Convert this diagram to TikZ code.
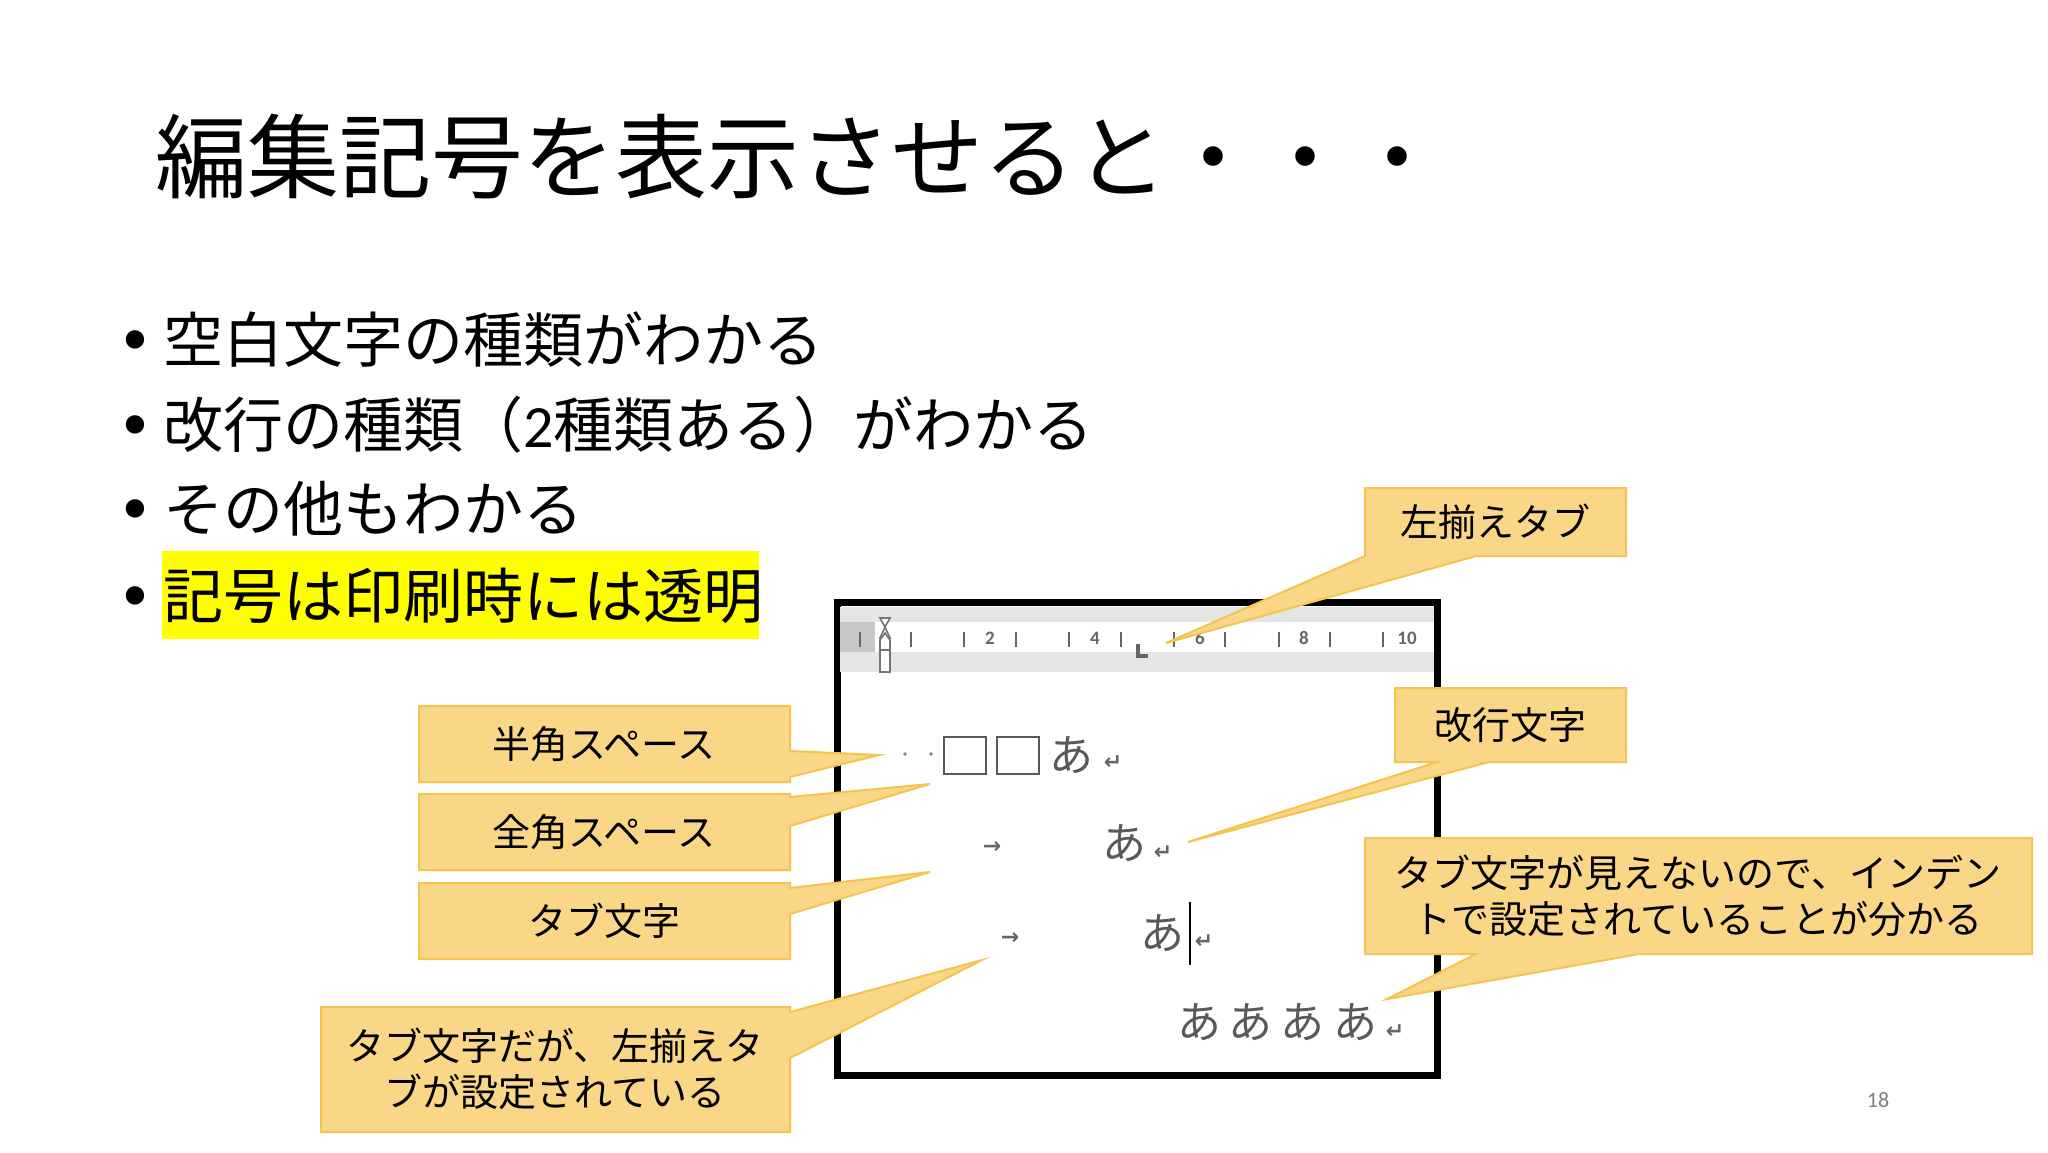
\documentclass[tikz,border=0pt]{standalone}
\usepackage{fontspec}
\setmainfont{Noto Sans CJK JP}
\newfontfamily\lat{Carlito}
\newfontfamily\dv{DejaVu Sans}
\definecolor{cofill}{RGB}{250,215,135}
\definecolor{codraw}{RGB}{244,196,80}
\definecolor{hl}{RGB}{255,255,0}
\begin{document}
\begin{tikzpicture}[x=0.5pt,y=-0.5pt,
  co/.style={fill=cofill,draw=codraw,line width=1pt,line join=miter},
  lbl/.style={font=\fontsize{19pt}{23pt}\selectfont,align=center,inner sep=0},
  bul/.style={anchor=west,font=\fontsize{30pt}{36pt}\selectfont,inner sep=0},
  jp/.style={text=black!65,font=\fontsize{22pt}{24pt}\selectfont,inner sep=0},
  mk/.style={text=black!60,font=\fontsize{11pt}{12pt}\selectfont\dv\bfseries,inner sep=0},
  rn/.style={text=black!60,font=\fontsize{9.5pt}{10pt}\selectfont\bfseries\lat,inner sep=0}]
\useasboundingbox (0,0) rectangle (2048,1152);
\fill[white] (0,0) rectangle (2048,1152);
% title
\node[anchor=west,inner sep=0,font=\fontsize{46pt}{52pt}\selectfont] (title) at (155,157) {編集記号を表示させると・・・};
% bullets
\fill[hl] (162,551) rectangle (759,639);
\foreach \y/\t [count=\i] in {340/空白文字の種類がわかる,425/改行の種類（{\lat 2}種類ある）がわかる,509/その他もわかる,596/記号は印刷時には透明}{
  \node[bul] (b\i) at (163,\y) {\t};
  \node[anchor=center,inner sep=0,font=\fontsize{26pt}{30pt}\selectfont\lat] (d\i) at (135,\y+3) {•};
}
% panel
\draw[line width=3.5pt] (837,602) rectangle (1437,1075);
\fill[black!10] (840,607) rectangle (1434,672);
\fill[white] (875,622) rectangle (1434,652);
\fill[black!22] (840,622) rectangle (875,652);
\foreach \x in {860,911,964,1016,1069,1121,1174,1225,1279,1330,1383}
  \draw[black!60,line width=1pt] (\x,632) -- (\x,647);
\foreach \x/\n in {990/2,1095/4,1200/6,1304/8,1407/10}
  \node[rn] (r\n) at (\x,638) {\n};
\draw[black!60,line width=2pt] (1138,644) -- (1138,656) -- (1148,656);
\draw[black!55,fill=white,line width=0.8pt] (880,618) -- (890,618) -- (885,627) -- cycle
  (885,627) -- (880,638) -- (890,638) -- cycle;
\draw[black!55,fill=white,line width=0.8pt] (880,640) -- (885,633) -- (890,640) -- (890,650) -- (880,650) -- cycle;
\draw[black!55,fill=white,line width=0.8pt] (880,650) rectangle (890,672);
% row 1
\fill[black!50] (905,754) circle (1.8) (931,754) circle (1.8);
\draw[black!65,line width=1pt] (944,737) rectangle (986,774) (997,737) rectangle (1039,774);
\node[jp] (a1) at (1071,755) {あ};
\node[mk] (e1) at (1113,763) {↵};
% row 2
\node[mk] (t2) at (992,848) {→};
\node[jp] (a2) at (1124,843) {あ};
\node[mk] (e2) at (1163,853) {↵};
% row 3
\node[mk] (t3) at (1010,939) {→};
\node[jp] (a3) at (1162,933) {あ};
\draw[black,line width=1pt] (1190,902) -- (1190,965);
\node[mk] (e3) at (1204,942) {↵};
% row 4
\node[jp,anchor=center] (a4) at (1277,1022) {あ\hspace{4pt}あ\hspace{4pt}あ\hspace{4pt}あ};
\node[mk] (e4) at (1395,1032) {↵};
% callouts right (bottom wedge)
\draw[co] (1365,488) -- (1626,488) -- (1626,556) -- (1476,556) -- (1166,643) -- (1365,556) -- cycle;
\node[lbl] (c1) at (1495,522) {左揃えタブ};
\draw[co] (1395,688) -- (1626,688) -- (1626,762) -- (1489,762) -- (1188,842) -- (1437,762) -- (1395,762) -- cycle;
\node[lbl] (c2) at (1510,725) {改行文字};
\draw[co] (1365,838) -- (2032,838) -- (2032,954) -- (1639,954) -- (1387,999) -- (1476,954) -- (1365,954) -- cycle;
\node[lbl] (c3) at (1698,896) {タブ文字が見えないので、インデン\\トで設定されていることが分かる};
% callouts left (right wedge)
\draw[co] (419,706) -- (790,706) -- (790,751) -- (879,755) -- (790,777) -- (790,782) -- (419,782) -- cycle;
\node[lbl] (c4) at (604,744) {半角スペース};
\draw[co] (419,794) -- (790,794) -- (790,797) -- (930,784) -- (790,826) -- (790,870) -- (419,870) -- cycle;
\node[lbl] (c5) at (604,832) {全角スペース};
\draw[co] (419,883) -- (790,883) -- (790,888) -- (930,872) -- (790,914) -- (790,959) -- (419,959) -- cycle;
\node[lbl] (c6) at (604,921) {タブ文字};
\draw[co] (321,1007) -- (790,1007) -- (790,1012) -- (982,960) -- (790,1058) -- (790,1132) -- (321,1132) -- cycle;
\node[lbl] (c7) at (555,1069) {タブ文字だが、左揃えタ\\ブが設定されている};
% page number
\node[text=black!50,font=\fontsize{11pt}{13pt}\selectfont\lat,inner sep=0] (pg) at (1878,1100) {18};
\end{tikzpicture}
\end{document}
